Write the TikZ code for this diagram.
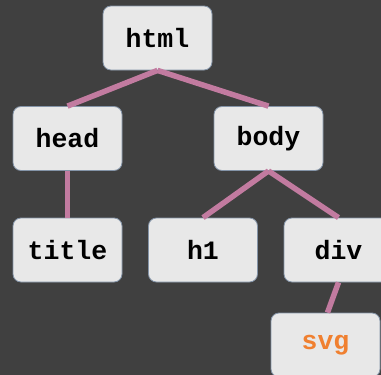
\documentclass[tikz,border=0pt]{standalone}
\usepackage{fontspec}
\setmonofont{Liberation Mono}
\definecolor{bg}{HTML}{404040}
\definecolor{boxfill}{HTML}{E8E8E8}
\definecolor{boxline}{HTML}{8494A8}
\definecolor{conn}{HTML}{C27BA0}
\definecolor{svgtxt}{HTML}{F08030}
\begin{document}
\begin{tikzpicture}[x=1pt,y=-1pt,
  tag/.style={draw=boxline, line width=0.8pt, fill=boxfill, rounded corners=8pt,
    minimum width=109pt, minimum height=64pt, inner sep=0pt,
    font=\fontsize{26.5}{30}\selectfont\ttfamily\bfseries},
  edge/.style={draw=conn, line width=5.5pt}]
\fill[bg] (0,0) rectangle (381,375);
\useasboundingbox (0,0) rectangle (381,375);
\node[tag] (html) at (157.5,38) {html};
\node[tag] (head) at (67.5,138.5) {head};
\node[tag] (body) at (268.5,138.5) {body};
\node[tag] (title) at (67.5,250) {title};
\node[tag] (h1) at (203,250) {h1};
\node[tag] (div) at (338.5,250) {div};
\node[tag, text=svgtxt] (svg) at (325.5,345) {svg};
\draw[edge] (html.south) -- (head.north);
\draw[edge] (html.south) -- (body.north);
\draw[edge] (head.south) -- (title.north);
\draw[edge] (body.south) -- (h1.north);
\draw[edge] (body.south) -- (div.north);
\draw[edge] (div.south) -- ([xshift=2pt]svg.north);
\end{tikzpicture}
\end{document}
